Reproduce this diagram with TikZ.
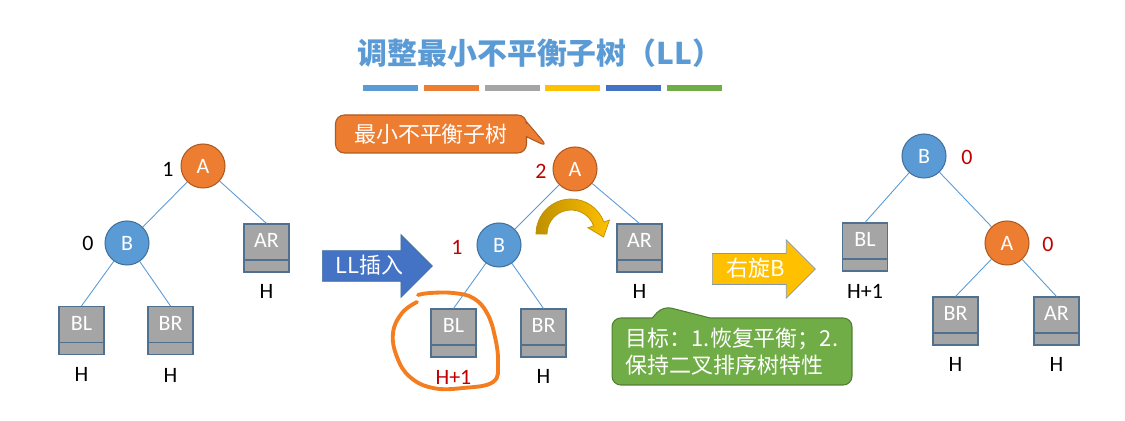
\documentclass[tikz,border=0pt]{standalone}
\usepackage{fontspec}
\setmainfont{Carlito}
\newfontfamily\cjk{Noto Sans CJK SC}
\usetikzlibrary{positioning,shapes.arrows,shapes.callouts}
\definecolor{nblue}{HTML}{5B9BD5}
\definecolor{nblueedge}{HTML}{41719C}
\definecolor{norange}{HTML}{ED7D31}
\definecolor{norangeedge}{HTML}{AE5A21}
\definecolor{bgray}{HTML}{A5A5A5}
\definecolor{bgrayedge}{HTML}{50708F}
\definecolor{bargold}{HTML}{FFC000}
\definecolor{bardblue}{HTML}{4472C4}
\definecolor{bargreen}{HTML}{70AD47}
\definecolor{greenedge}{HTML}{507E32}
\definecolor{golddark}{HTML}{BF9000}
\definecolor{balred}{HTML}{C00000}
\definecolor{handorange}{HTML}{F47D20}
\definecolor{arrowline}{HTML}{8497B0}
\newcommand{\latinsize}{\fontsize{12.5}{14}\selectfont}
\newcommand{\cjksize}{\cjk\fontsize{12.5}{15.3}\selectfont}
\tikzset{
  circ/.style={circle, minimum size=0.88cm, inner sep=0pt, text=white, font=\latinsize, line width=0.6pt},
  bluec/.style={circ, fill=nblue, draw=nblueedge},
  orangec/.style={circ, fill=norange, draw=norangeedge},
  subtree/.style={rectangle, fill=bgray, draw=bgrayedge, line width=0.6pt,
    minimum width=0.9cm, minimum height=0.96cm, inner sep=0pt,
    text height=0.22cm, text depth=0.22cm, text=white, font=\latinsize,
    path picture={\draw[bgrayedge, line width=0.6pt]
      ([yshift=0.24cm]path picture bounding box.south west) --
      ([yshift=0.24cm]path picture bounding box.south east);}},
  hgt/.style={inner sep=0pt, font=\latinsize},
  bal/.style={inner sep=0pt, font=\latinsize},
  treeedge/.style={nblue, line width=0.5pt},
  blockarrow/.style={single arrow, inner sep=0pt, text height=0.46cm, text depth=0.14cm,
    text=white, font=\cjksize, line width=0.4pt},
  callbox/.style={rectangle callout, rounded corners=5pt, text=white, font=\cjksize, line width=0.6pt},
}
\begin{document}
\begin{tikzpicture}[x=0.02cm, y=-0.02cm]
  \fill[white] (0,0) rectangle (1125,421);
  \useasboundingbox (0,0) rectangle (1125,421);

  \node[text=nblue, font=\cjk\bfseries\fontsize{17}{20}\selectfont] (title) at (540,53) {调整最小不平衡子树（LL）};
  \foreach \c [count=\i from 0] in {nblue,norange,bgray,bargold,bardblue,bargreen}
    \fill[\c] (363+60.8*\i,85) rectangle ++(55,6);

  \node[orangec] (lA) at (203,166) {A};
  \node[bluec] (lB) at (127,243) {B};
  \node[subtree] (lAR) at (266.5,248) {AR};
  \node[subtree] (lBL) at (81.5,330.5) {BL};
  \node[subtree] (lBR) at (170.5,330.5) {BR};
  \node[bal] (lAbal) at (168,169) {1};
  \node[bal] (lBbal) at (88,243) {0};
  \node[hgt, below=0.24cm of lAR] (lARh) {H};
  \node[hgt, below=0.24cm of lBL] (lBLh) {H};
  \node[hgt, below=0.27cm of lBR] (lBRh) {H};
  \draw[treeedge] (lA) -- (lB);
  \draw[treeedge] (lA) -- (lAR.north);
  \draw[treeedge] (lB) -- (lBL.north);
  \draw[treeedge] (lB) -- (lBR.north);

  \node[blockarrow, fill=bardblue, draw=nblueedge, minimum height=2.2cm, minimum width=1.24cm,
    single arrow head extend=0.32cm, anchor=tail] (insert) at (322,266) {LL{\cjk 插入}};

  \node[orangec] (mA) at (575,169) {A};
  \node[bluec] (mB) at (499,245) {B};
  \node[subtree] (mAR) at (639.5,248) {AR};
  \node[subtree] (mBL) at (453.5,333) {BL};
  \node[subtree] (mBR) at (543.5,333) {BR};
  \node[bal, text=balred] (mAbal) at (541,171) {2};
  \node[bal, text=balred] (mBbal) at (457,247) {1};
  \node[hgt, below=0.24cm of mAR] (mARh) {H};
  \node[hgt, text=balred, below=0.24cm of mBL] (mBLh) {H+1};
  \node[hgt, below=0.24cm of mBR] (mBRh) {H};
  \draw[treeedge] (mA) -- (mB);
  \draw[treeedge] (mA) -- (mAR.north);
  \draw[treeedge] (mB) -- (mBL.north);
  \draw[treeedge] (mB) -- (mBR.north);

  \node[callbox, fill=norange, draw=norangeedge, minimum width=3.82cm, minimum height=0.76cm,
    callout absolute pointer={(548,147)}, callout pointer width=0.3cm] (mincall) at (431,134) {最小不平衡子树};

  \path[left color=golddark, right color=bargold, draw=golddark, line width=0.4pt]
    (536,234) arc[start angle=180, end angle=340, radius=35] -- (609.5,220) -- (603.5,237.1)
    -- (587.9,227.8) -- (593.6,225.8) arc[start angle=340, end angle=180, radius=24] -- cycle;

  \draw[handorange, line width=2.2pt, line cap=round] plot[smooth, tension=0.7] coordinates
    {(417,302) (402,313) (393,333) (397,357) (410,377) (433,388) (463,388) (493,382)
     (498,363) (495,337) (487,313) (473,298) (453,293) (430,293) (418,295)};

  \node[callbox, fill=bargreen, draw=greenedge, minimum width=4.8cm, minimum height=1.34cm,
    align=left, callout absolute pointer={(663,306)}, callout pointer width=1.16cm] (goal) at (732,351.5)
    {目标：1.恢复平衡；2.\\保持二叉排序树特性};

  \node[blockarrow, fill=bargold, draw=arrowline, minimum height=2.06cm, minimum width=1.16cm,
    single arrow head extend=0.27cm, anchor=tail] (rotate) at (712,269) {{\cjk 右旋}B};

  \node[bluec] (rB) at (924,156) {B};
  \node[orangec] (rA) at (1007,243) {A};
  \node[subtree] (rBL) at (865,247) {BL};
  \node[subtree] (rBR) at (955.5,321) {BR};
  \node[subtree] (rAR) at (1056.5,321) {AR};
  \node[bal, text=balred] (rBbal) at (967,157) {0};
  \node[bal, text=balred] (rAbal) at (1048,244) {0};
  \node[hgt, below=0.24cm of rBL] (rBLh) {H+1};
  \node[hgt, below=0.24cm of rBR] (rBRh) {H};
  \node[hgt, below=0.24cm of rAR] (rARh) {H};
  \draw[treeedge] (rB) -- (rBL.north);
  \draw[treeedge] (rB) -- (rA);
  \draw[treeedge] (rA) -- (rBR.north);
  \draw[treeedge] (rA) -- (rAR.north);
\end{tikzpicture}
\end{document}
